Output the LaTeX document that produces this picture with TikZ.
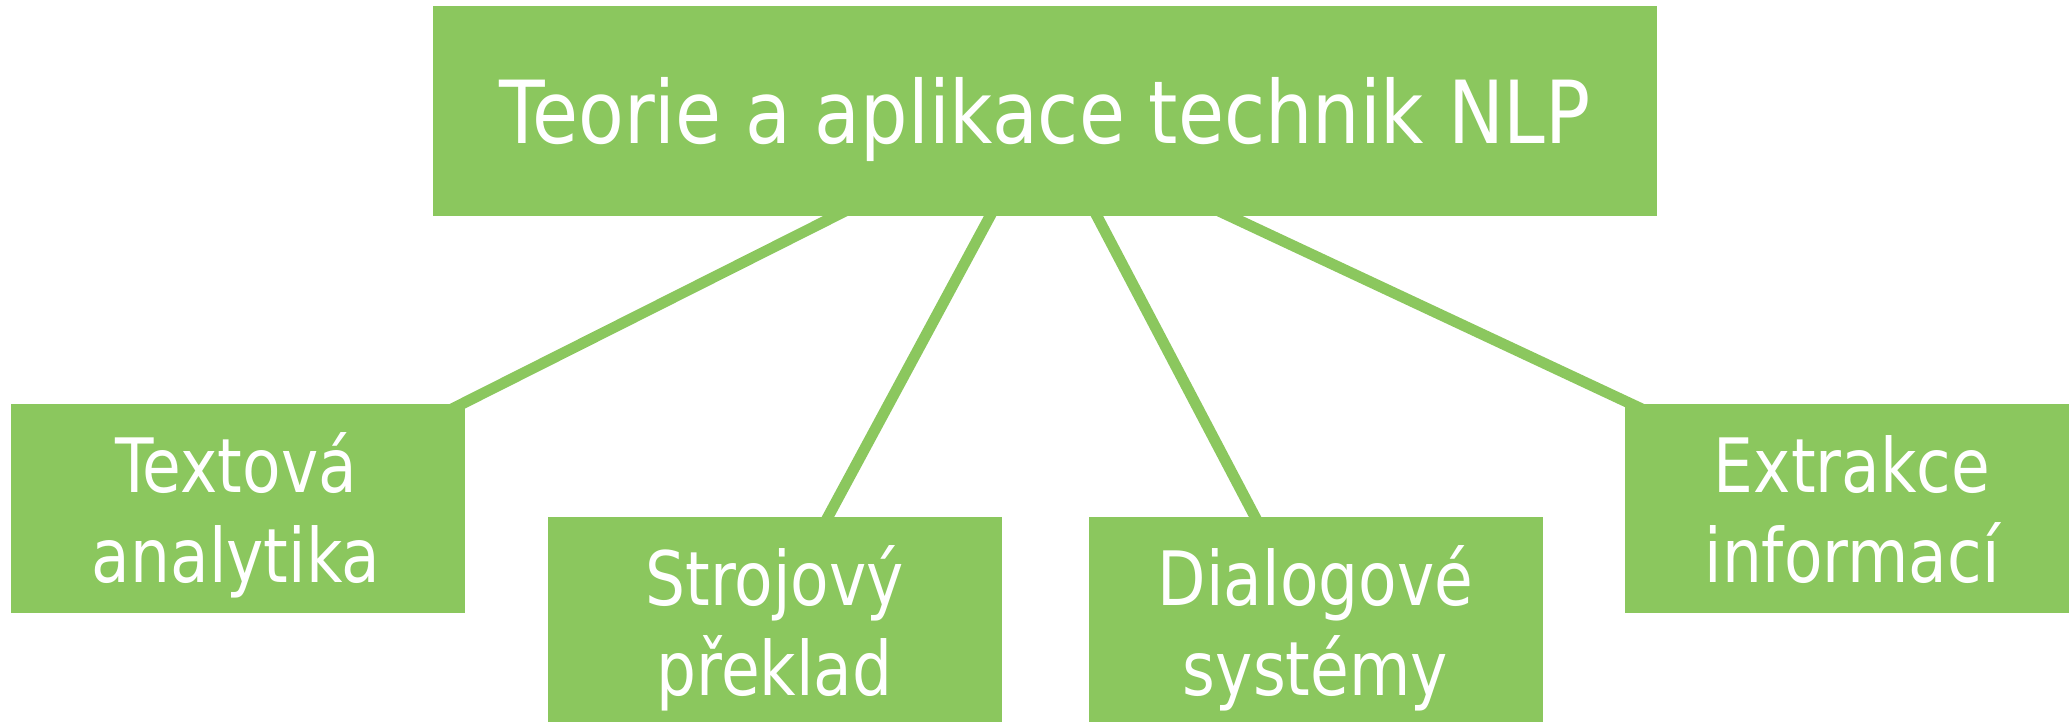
\documentclass[tikz,border=0pt]{standalone}
\usepackage{fontspec}
\setmainfont{DejaVu Sans}[FakeStretch=0.86]
\newfontfamily\childfont{DejaVu Sans}[FakeStretch=0.84]
\usetikzlibrary{calc,backgrounds}
\definecolor{boxgreen}{RGB}{139,199,94}
\tikzset{
  box/.style={fill=boxgreen, draw=none, inner sep=0pt},
  titlebox/.style={box, minimum width=1224pt, minimum height=210pt},
  childbox/.style={box, minimum width=454pt, minimum height=209pt},
  titletext/.style={text=white, inner sep=0pt, anchor=base, font=\fontsize{87}{100}\selectfont},
  childtext/.style={text=white, inner sep=0pt, anchor=base, font=\childfont\fontsize{75}{90}\selectfont},
  link/.style={draw=boxgreen, line width=11pt, shorten <=-25pt, shorten >=-25pt}
}
\begin{document}
\begin{tikzpicture}[x=1pt,y=-1pt]
\useasboundingbox (0,0) rectangle (2069,722);
% boxes
\node[titlebox] (top) at (1045,111) {};
\node[childbox] (c1) at (238,508.5) {};
\node[childbox] (c2) at (774.5,621.5) {};
\node[childbox] (c3) at (1315.5,621.5) {};
\node[childbox] (c4) at (1852,508.5) {};
% texts
\node[titletext] (toptext) at ($(top.north)+(0,138)$) {Teorie a aplikace technik NLP};
\node[childtext] (c1a) at ($(c1.north)+(-2,89)$) {Textová};
\node[childtext] (c1b) at ($(c1a.base)+(0,90)$) {analytika};
\node[childtext] (c2a) at ($(c2.north)+(0,89)$) {Strojový};
\node[childtext] (c2b) at ($(c2a.base)+(0,90)$) {překlad};
\node[childtext] (c3a) at ($(c3.north)+(0,89)$) {Dialogové};
\node[childtext] (c3b) at ($(c3a.base)+(0,90)$) {systémy};
\node[childtext] (c4a) at ($(c4.north)+(0,89)$) {Extrakce};
\node[childtext] (c4b) at ($(c4a.base)+(0,90)$) {informací};
% connector end points
\coordinate (t1) at ($(top.south)+(-210,0)$);
\coordinate (b1) at ($(c1.north east)+(-3,0)$);
\coordinate (t2) at ($(top.south)+(-55,0)$);
\coordinate (b2) at ($(c2.north)+(53.5,0)$);
\coordinate (t3) at ($(top.south)+(52,0)$);
\coordinate (b3) at ($(c3.north)+(-60.5,0)$);
\coordinate (t4) at ($(top.south)+(185,0)$);
\coordinate (b4) at ($(c4.north west)+(6,0)$);
\begin{scope}[on background layer]
\draw[link] (t1) -- (b1);
\draw[link] (t2) -- (b2);
\draw[link] (t3) -- (b3);
\draw[link] (t4) -- (b4);
\end{scope}
\end{tikzpicture}
\end{document}
